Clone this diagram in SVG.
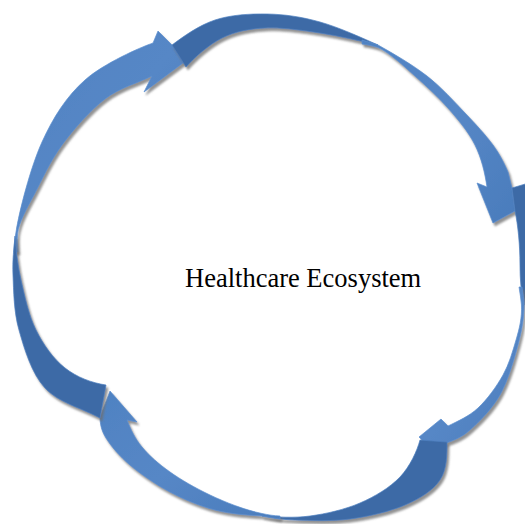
<svg xmlns="http://www.w3.org/2000/svg" width="525" height="524" viewBox="0 0 525 524">
  <defs>
    <filter id="shadow" x="-10%" y="-10%" width="130%" height="130%">
      <feDropShadow dx="2" dy="3" stdDeviation="1.1" flood-color="#6e6e6e" flood-opacity="0.75"/>
    </filter>
    <linearGradient id="faceGrad" x1="0" y1="0" x2="1" y2="1">
      <stop offset="0" stop-color="#4f82c2"/>
      <stop offset="0.5" stop-color="#5687c6"/>
      <stop offset="1" stop-color="#4a7cbc"/>
    </linearGradient>
  </defs>
  <style>
    .front { fill: url(#faceGrad); stroke: #5b8fd0; stroke-width: 0.7; stroke-linejoin: round; filter: url(#shadow); }
    .back { fill: #3e6ba6; stroke: #4d7fc0; stroke-width: 0.7; stroke-linejoin: round; filter: url(#shadow); }
    .label { font-family: "Liberation Serif", "Times New Roman", serif; font-size: 26.5px; fill: #000; }
  </style>

  <rect width="525" height="524" fill="#ffffff"/>

  <!-- cycle of four twisted ribbon arrows: dark = back face, light = front face -->
  <g id="connectors">
    <g id="arrow-left">
      <path class="front" d="M14,252 C14,245 15,238 16,232 C19,212 30.5,167.3 42,142 C53.5,116.7 66.5,96.5 85,80 C103.5,63.5 141,47 153,43 L158,31 L187,60 L144,92 L152,76 C136,83.7 120,87.5 105,99 C90,110.5 73.8,129 62,145 C50.2,161 41.7,180.5 34,195 C26.3,209.5 19,222 17.5,234 C17,240 17.5,246 18,252 Z"/>
    </g>
    <g id="arrow-top">
      <path class="back" d="M172,45 C184,36 199.2,25.2 215,20 C230.8,14.8 249.5,13.7 267,14 C284.5,14.3 301.5,16.8 320,22 C338.5,27.2 360,37 378,45 C360,41 338.8,35.8 320,33 C301.2,30.2 281.3,27.2 265,28 C248.7,28.8 235.2,31.5 222,38 C208.8,44.5 194,58 186,67 Z"/>
      <path class="front" d="M362,40 C368,42 373,43 378,45 C394,54 412.5,64.7 427,76 C441.5,87.3 454,101.5 465,113 C476,124.5 485.8,135.2 493,145 C500.2,154.8 505,165 508,172 L512,188 L515,211 L493,223 L477,183 L487,187 C485,173 481.5,158.2 475,145 C468.5,131.8 458,119.5 448,108 C438,96.5 426.7,86.5 415,76 C403.3,65.5 390,53 378,47.5 C372,45.8 367,44.6 362,44 Z"/>
    </g>
    <g id="arrow-right">
      <path class="back" d="M512,188 L545,178 C542,210 533,250 528,275 C526,288 525,298 524,305 C521,290 520,280 520,265 C520,245 518,225 515,211 Z"/>
      <path class="front" d="M522,287 C523,294 524,299 524,305 C524,318 522,330 518,345 C514,360 508,380.8 500,395 C492,409.2 479,422 470,430 C461,438 452,441 446,443 L435,453 L419,437 L441,419 L448,426 C458,421 468.8,416.5 478,408 C487.2,399.5 496.7,386.3 503,375 C509.3,363.7 512.5,351.7 516,340 C519.5,328.3 522,318 521.5,305 C521,299 520,293 519,287 Z"/>
    </g>
    <g id="arrow-bottom">
      <path class="back" d="M420,440 L447,442 C447,455 447,469.5 440,480 C433,490.5 420,498.5 405,505 C390,511.5 368.3,516.5 350,519 C331.7,521.5 309.7,520.5 295,520 C280.3,519.5 270,517.5 262,516 C278,517 293.7,518.2 310,516 C326.3,513.8 345,509.5 360,503 C375,496.5 390,487.5 400,477 C410,466.5 417,451 420,440 Z"/>
      <path class="front" d="M280,519 C273,518 267,517 262,516 C246,515 230.3,514 215,510 C199.7,506 184.2,499.5 170,492 C155.8,484.5 140.7,474 130,465 C119.3,456 111,446 106,438 C101,430 100,423 100,417 L110,391 L137,422 L127,420 C131,430 134.8,438.3 142,447 C149.2,455.7 158.7,464 170,472 C181.3,480 194.7,487.7 210,495 C225.3,502.3 245,510 262,513.5 C268,514.8 274,515.8 280,516 Z"/>
    </g>
    <g id="arrow-left-tail">
      <path class="back" d="M100,418 C81.7,408 58.5,402.7 45,388 C31.5,373.3 24.3,348.8 19,330 C13.7,311.2 13.7,290.7 13,275 C12.3,259.3 14,249 15,236 C16,250 17.5,264.3 21,280 C24.5,295.7 28.7,315.3 36,330 C43.3,344.7 53.3,358.8 65,368 C76.7,377.2 92,383 106,385 Z"/>
    </g>
  </g>

  <g id="node-center">
    <text class="label" x="185" y="287">Healthcare Ecosystem</text>
  </g>
</svg>
